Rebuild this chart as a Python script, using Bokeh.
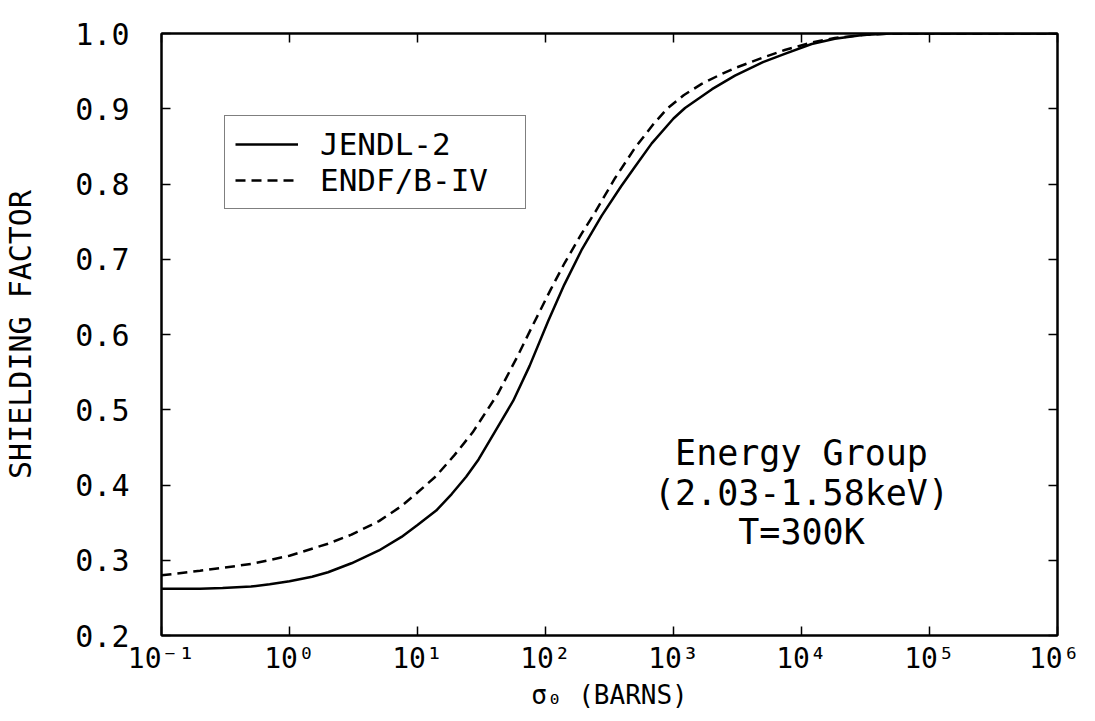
from bokeh.plotting import figure
from bokeh.models import (LinearAxis, LogAxis, CustomJSTickFormatter, Legend, LegendItem,
                          Label, FixedTicker, Range1d)
from bokeh.embed import file_html
from bokeh.resources import INLINE

# ---- data ----
jendl_sigma = [0.1, 0.2, 0.3, 0.5, 0.7, 1.0, 1.5, 2.0, 3.05, 5.0, 7.5, 10.0, 14.0, 18.5, 24.0,
               30.0, 40.0, 56.0, 75.0, 105.0, 140.0, 191.0, 275.0, 390.0, 500.0, 676.0, 1000.0,
               1230.0, 2000.0, 3020.0, 5000.0, 7400.0, 12000.0, 18200.0, 30000.0, 50000.0, 1e6]
jendl_f = [0.262, 0.262, 0.263, 0.265, 0.268, 0.272, 0.278, 0.284, 0.296, 0.313, 0.331, 0.347,
           0.366, 0.388, 0.411, 0.434, 0.470, 0.512, 0.558, 0.618, 0.666, 0.712, 0.758, 0.797,
           0.823, 0.854, 0.887, 0.901, 0.926, 0.944, 0.962, 0.973, 0.986, 0.993, 0.998, 1.0, 1.0]

endf_sigma = [0.1, 0.2, 0.5, 1.0, 2.0, 3.05, 5.0, 7.5, 10.0, 14.0, 19.5, 27.0, 42.7, 60.0, 81.0,
              110.0, 141.0, 190.0, 245.0, 350.0, 500.0, 700.0, 891.0, 1200.0, 1660.0, 2300.0,
              3020.0, 5000.0, 7400.0, 12000.0, 18200.0, 30000.0, 50000.0, 1e6]
endf_f = [0.280, 0.286, 0.295, 0.306, 0.322, 0.334, 0.352, 0.372, 0.390, 0.412, 0.440, 0.470,
          0.522, 0.570, 0.615, 0.660, 0.695, 0.733, 0.763, 0.808, 0.848, 0.880, 0.900, 0.918,
          0.933, 0.945, 0.954, 0.968, 0.978, 0.988, 0.994, 0.998, 1.0, 1.0]

x_ticks = [1e-1, 1e0, 1e1, 1e2, 1e3, 1e4, 1e5, 1e6]
y_ticks = [0.2, 0.3, 0.4, 0.5, 0.6, 0.7, 0.8, 0.9, 1.0]
series_labels = ["JENDL-2", "ENDF/B-IV"]
note_lines = ["Energy Group", "(2.03-1.58keV)", "T=300K"]
note_x = 10000.0
note_y = [0.443, 0.389, 0.337]

FONT = "DejaVu Sans Mono"
FS = "30px"

p = figure(width=1079, height=712, x_axis_type="log",
           x_range=Range1d(0.1, 1e6), y_range=Range1d(0.2, 1.0),
           output_backend="svg", toolbar_location=None,
           min_border_left=160, min_border_right=22, min_border_top=33, min_border_bottom=72)
p.grid.visible = False
p.outline_line_color = "black"
p.outline_line_width = 2
p.background_fill_color = "white"
p.border_fill_color = "white"

r1 = p.line(jendl_sigma, jendl_f, line_color="black", line_width=2.5)
r2 = p.line(endf_sigma, endf_f, line_color="black", line_width=2.5, line_dash="10 6")

sup_code = """
const sup = {'-':'\u207b','0':'\u2070','1':'\u00b9','2':'\u00b2','3':'\u00b3','4':'\u2074',
             '5':'\u2075','6':'\u2076','7':'\u2077','8':'\u2078','9':'\u2079'};
const e = Math.round(Math.log10(tick));
return '10' + String(e).split('').map(c => sup[c]).join('');
"""

def style(ax):
    ax.axis_line_color = "black"
    ax.axis_line_width = 2
    ax.major_tick_in = 9
    ax.major_tick_out = 0
    ax.major_tick_line_width = 1.5
    ax.minor_tick_line_color = None
    ax.major_label_text_font = FONT
    ax.major_label_text_font_size = FS
    ax.major_label_text_color = "black"
    ax.axis_label_text_font = FONT
    ax.axis_label_text_font_size = "26px"
    ax.axis_label_text_font_style = "normal"
    ax.axis_label_text_color = "black"

xa = p.xaxis[0]
style(xa)
xa.ticker = FixedTicker(ticks=x_ticks)
xa.formatter = CustomJSTickFormatter(code=sup_code)
xa.major_label_text_font_size = "28px"
xa.major_label_standoff = 6
xa.axis_label = "\u03c3\u2080 (BARNS)"
xa.axis_label_standoff = 2

ya = p.yaxis[0]
style(ya)
ya.ticker = FixedTicker(ticks=y_ticks)
ya.formatter = CustomJSTickFormatter(code="return tick.toFixed(1);")
ya.major_label_standoff = 32
ya.axis_label = "SHIELDING FACTOR"
ya.axis_label_text_font_size = "30px"
ya.axis_label_standoff = 34

top = LogAxis(ticker=FixedTicker(ticks=x_ticks), formatter=CustomJSTickFormatter(code="return '';"))
style(top)
p.add_layout(top, "above")
right = LinearAxis(ticker=FixedTicker(ticks=y_ticks), formatter=CustomJSTickFormatter(code="return '';"))
style(right)
p.add_layout(right, "right")

legend = Legend(items=[LegendItem(label=series_labels[0], renderers=[r1]),
                       LegendItem(label=series_labels[1], renderers=[r2])],
                location=(63, 426))
legend.border_line_color = "black"
legend.border_line_width = 1.5
legend.background_fill_color = "white"
legend.background_fill_alpha = 1
legend.label_text_font = FONT
legend.label_text_font_size = "31px"
legend.label_text_color = "black"
legend.glyph_width = 63
legend.glyph_height = 20
legend.label_standoff = 22
legend.label_width = 195
legend.padding = 10
legend.spacing = 0
legend.margin = 0
p.add_layout(legend, "center")

for txt, yy in zip(note_lines, note_y):
    p.add_layout(Label(x=note_x, y=yy, text=txt, text_font=FONT, text_font_size="35px",
                       text_align="center", text_baseline="alphabetic", text_color="black"))

open("out.html", "w").write(file_html(p, INLINE))
